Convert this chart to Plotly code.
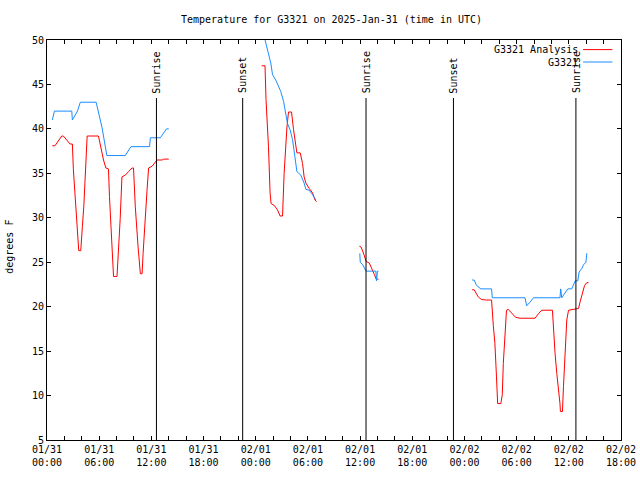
import plotly.graph_objects as go

# ---- data ----
analysis_times = [
    "2025-01-31 00:37", "2025-01-31 00:55", "2025-01-31 01:42", "2025-01-31 01:53", "2025-01-31 02:39",
    "2025-01-31 02:55", "2025-01-31 03:02", "2025-01-31 03:19", "2025-01-31 03:26", "2025-01-31 03:37",
    "2025-01-31 03:39", "2025-01-31 03:53", "2025-01-31 03:55", "2025-01-31 04:04", "2025-01-31 04:14",
    "2025-01-31 04:23", "2025-01-31 04:37", "2025-01-31 05:55", "2025-01-31 06:07", "2025-01-31 06:30",
    "2025-01-31 06:46", "2025-01-31 07:04", "2025-01-31 07:11", "2025-01-31 07:23", "2025-01-31 07:32",
    "2025-01-31 07:39", "2025-01-31 08:03", "2025-01-31 08:14", "2025-01-31 08:25", "2025-01-31 08:37",
    "2025-01-31 09:00", "2025-01-31 09:23", "2025-01-31 09:46", "2025-01-31 09:57", "2025-01-31 10:09",
    "2025-01-31 10:28", "2025-01-31 10:37", "2025-01-31 10:44", "2025-01-31 10:56", "2025-01-31 11:03",
    "2025-01-31 11:30", "2025-01-31 11:41", "2025-01-31 12:05", "2025-01-31 12:28", "2025-01-31 12:39",
    "2025-01-31 13:14", "2025-01-31 13:25", "2025-01-31 14:00",
    None,
    "2025-02-01 00:41", "2025-02-01 01:04", "2025-02-01 01:11", "2025-02-01 01:28", "2025-02-01 01:39",
    "2025-02-01 01:46", "2025-02-01 02:07", "2025-02-01 02:30", "2025-02-01 02:48", "2025-02-01 03:05",
    "2025-02-01 03:16", "2025-02-01 03:28", "2025-02-01 03:35", "2025-02-01 03:46", "2025-02-01 04:07",
    "2025-02-01 04:21", "2025-02-01 04:32", "2025-02-01 04:44", "2025-02-01 05:07", "2025-02-01 05:23",
    "2025-02-01 05:34", "2025-02-01 05:46", "2025-02-01 06:09", "2025-02-01 06:32", "2025-02-01 06:49",
    "2025-02-01 07:00",
    None,
    "2025-02-01 11:55", "2025-02-01 12:07", "2025-02-01 12:26", "2025-02-01 12:41", "2025-02-01 13:04",
    "2025-02-01 13:28", "2025-02-01 13:39", "2025-02-01 13:51", "2025-02-01 14:07",
    None,
    "2025-02-02 00:53", "2025-02-02 01:07", "2025-02-02 01:35", "2025-02-02 01:58", "2025-02-02 02:32",
    "2025-02-02 03:07", "2025-02-02 03:19", "2025-02-02 03:30", "2025-02-02 03:41", "2025-02-02 03:49",
    "2025-02-02 04:11", "2025-02-02 04:21", "2025-02-02 04:28", "2025-02-02 04:39", "2025-02-02 04:50",
    "2025-02-02 05:02", "2025-02-02 05:25", "2025-02-02 05:53", "2025-02-02 06:23", "2025-02-02 08:07",
    "2025-02-02 08:30", "2025-02-02 08:53", "2025-02-02 10:07", "2025-02-02 10:14", "2025-02-02 10:25",
    "2025-02-02 10:37", "2025-02-02 10:49", "2025-02-02 10:59", "2025-02-02 11:02", "2025-02-02 11:16",
    "2025-02-02 11:23", "2025-02-02 11:34", "2025-02-02 11:46", "2025-02-02 11:58", "2025-02-02 12:44",
    "2025-02-02 13:07", "2025-02-02 13:18", "2025-02-02 13:35", "2025-02-02 13:49", "2025-02-02 14:04",
    "2025-02-02 14:16",
]
analysis_temps = [
    38.1, 38.1, 39.2, 39.2, 38.3,
    38.3, 35.4, 31.3, 29.2, 27.2,
    26.3, 26.3, 27.2, 29.0, 31.3,
    34.3, 39.2, 39.2, 38.2, 36.5,
    35.6, 35.5, 32.4, 28.3, 26.4,
    23.4, 23.4, 26.4, 29.9, 34.6,
    34.8, 35.2, 35.6, 35.6, 31.3,
    26.8, 24.6, 23.7, 23.7, 26.0,
    33.1, 35.6, 35.8, 36.3, 36.5,
    36.5, 36.6, 36.6,
    None,
    47.1, 47.1, 43.3, 38.0, 32.8,
    31.6, 31.4, 30.9, 30.2, 30.2,
    35.0, 38.8, 40.1, 41.9, 41.9,
    39.9, 38.4, 37.3, 37.3, 36.1,
    34.6, 33.9, 33.3, 32.8, 32.0,
    31.8,
    None,
    26.8, 26.7, 25.9, 25.1, 24.9,
    24.1, 23.6, 23.1, 23.1,
    None,
    21.9, 21.9, 21.1, 20.8, 20.75,
    20.75, 17.9, 15.9, 12.1, 9.1,
    9.1, 10.1, 13.6, 17.0, 19.6,
    19.7, 19.3, 18.8, 18.7, 18.7,
    19.2, 19.6, 19.6, 17.4, 14.75,
    12.5, 11.0, 9.1, 8.2, 8.2,
    11.0, 15.1, 18.5, 19.6, 19.7,
    19.8, 20.55, 21.6, 22.4, 22.7,
    22.7,
]

obs_times = [
    "2025-01-31 00:37", "2025-01-31 00:51", "2025-01-31 02:51", "2025-01-31 02:55", "2025-01-31 03:30",
    "2025-01-31 03:50", "2025-01-31 05:39", "2025-01-31 05:55", "2025-01-31 06:19", "2025-01-31 06:53",
    "2025-01-31 09:00", "2025-01-31 09:39", "2025-01-31 11:48", "2025-01-31 11:53", "2025-01-31 13:02",
    "2025-01-31 13:44", "2025-01-31 14:00",
    None,
    "2025-02-01 00:46", "2025-02-01 01:21", "2025-02-01 01:44", "2025-02-01 01:56", "2025-02-01 02:18",
    "2025-02-01 02:53", "2025-02-01 03:12", "2025-02-01 03:23", "2025-02-01 03:39", "2025-02-01 03:57",
    "2025-02-01 04:14", "2025-02-01 04:30", "2025-02-01 04:44", "2025-02-01 05:11", "2025-02-01 05:34",
    "2025-02-01 05:46", "2025-02-01 06:09", "2025-02-01 06:32", "2025-02-01 06:55",
    None,
    "2025-02-01 11:58", "2025-02-01 12:01", "2025-02-01 12:19", "2025-02-01 12:41", "2025-02-01 13:49",
    "2025-02-01 13:53", "2025-02-01 14:00", "2025-02-01 14:07",
    None,
    "2025-02-02 00:53", "2025-02-02 01:07", "2025-02-02 01:23", "2025-02-02 01:53", "2025-02-02 03:07",
    "2025-02-02 03:12", "2025-02-02 06:58", "2025-02-02 07:09", "2025-02-02 07:32", "2025-02-02 07:56",
    "2025-02-02 10:59", "2025-02-02 11:04", "2025-02-02 11:11", "2025-02-02 11:34", "2025-02-02 11:53",
    "2025-02-02 12:20", "2025-02-02 12:44", "2025-02-02 13:02", "2025-02-02 13:11", "2025-02-02 13:30",
    "2025-02-02 13:41", "2025-02-02 13:58", "2025-02-02 14:04",
]
obs_temps = [
    41.0, 42.0, 42.0, 41.0, 42.0,
    43.0, 43.0, 42.0, 40.2, 37.0,
    37.0, 38.0, 38.0, 39.0, 39.0,
    40.0, 40.0,
    None,
    51.2, 48.9, 47.4, 46.1, 45.5,
    44.2, 43.1, 42.1, 40.6, 39.9,
    38.8, 36.9, 35.2, 34.8, 33.9,
    33.2, 33.1, 32.6, 32.0,
    None,
    26.0, 25.0, 24.7, 24.0, 24.0,
    22.9, 24.0, 24.0,
    None,
    23.0, 23.0, 22.4, 22.0, 22.0,
    21.0, 21.0, 20.1, 20.5, 21.0,
    21.0, 22.0, 21.0, 21.5, 22.0,
    22.0, 22.9, 22.9, 23.9, 24.3,
    24.7, 25.0, 26.0,
]

sun_events = ["Sunrise", "Sunset", "Sunrise", "Sunset", "Sunrise"]
sun_times = ["2025-01-31 12:35", "2025-01-31 22:30", "2025-02-01 12:41",
             "2025-02-01 22:44", "2025-02-02 12:49"]

y_ticks = [5, 10, 15, 20, 25, 30, 35, 40, 45, 50]

series_names = ["G3321 Analysis", "G3321"]
series_colors = ["#ff0000", "#1a8cff"]

title_text = "Temperature for G3321 on 2025-Jan-31 (time in UTC)"
y_label = "degrees F"

FONT = "DejaVu Sans Mono"
FS = 10

fig = go.Figure()
fig.add_trace(go.Scatter(x=analysis_times, y=analysis_temps, mode="lines",
                         name=series_names[0], line=dict(color=series_colors[0], width=1),
                         connectgaps=False))
fig.add_trace(go.Scatter(x=obs_times, y=obs_temps, mode="lines",
                         name=series_names[1], line=dict(color=series_colors[1], width=1),
                         connectgaps=False))

shapes = []
annotations = []
for ev, t in zip(sun_events, sun_times):
    shapes.append(dict(type="line", xref="x", yref="paper", x0=t, x1=t, y0=0, y1=0.855,
                       line=dict(color="black", width=1)))
    annotations.append(dict(x=t, xref="x", y=0.862, yref="paper", text=ev, showarrow=False,
                            textangle=-90, xanchor="center", yanchor="bottom",
                            font=dict(family=FONT, size=FS, color="black")))

# gnuplot-style legend (text right-aligned, sample line to the right)
legend_y = [0.976, 0.945]
for name, col, ly in zip(series_names, series_colors, legend_y):
    annotations.append(dict(x=0.929, xref="paper", y=ly, yref="paper", text=name,
                            showarrow=False, xanchor="right", yanchor="middle",
                            font=dict(family=FONT, size=FS, color="black")))
    shapes.append(dict(type="line", xref="paper", yref="paper", x0=0.934, x1=0.985,
                       y0=ly, y1=ly, line=dict(color=col, width=1)))

annotations.append(dict(x=-0.0645, xref="paper", y=0.483, yref="paper", text=y_label,
                        showarrow=False, textangle=-90, xanchor="center", yanchor="middle",
                        font=dict(family=FONT, size=FS, color="black")))
annotations.append(dict(x=0.4965, xref="paper", y=1.05, yref="paper", text=title_text,
                        showarrow=False, xanchor="center", yanchor="middle",
                        font=dict(family=FONT, size=FS, color="black")))

fig.update_layout(
    width=640, height=480,
    margin=dict(l=47, r=19, t=40, b=40, autoexpand=False),
    paper_bgcolor="white", plot_bgcolor="white",
    showlegend=False,
    font=dict(family=FONT, size=FS, color="black"),
    shapes=shapes, annotations=annotations,
)
fig.update_xaxes(
    type="date", range=["2025-01-31 00:00", "2025-02-02 18:00"], automargin=False,
    tick0="2025-01-31 00:00", dtick=6 * 3600 * 1000, tickformat="%m/%d<br>%H:%M",
    ticks="inside", ticklen=4, tickcolor="black", showline=True, linecolor="black",
    linewidth=1, mirror="ticks", showgrid=False, zeroline=False,
    minor=dict(dtick=2 * 3600 * 1000, ticks="inside", ticklen=4, tickcolor="black", showgrid=False),
    tickfont=dict(family=FONT, size=FS, color="black"),
)
fig.update_yaxes(
    range=[5, 50], tickvals=y_ticks, ticks="inside", ticklen=4, tickcolor="black",
    showline=True, linecolor="black", linewidth=1, mirror="ticks", showgrid=False,
    zeroline=False, automargin=False, tickfont=dict(family=FONT, size=FS, color="black"),
)

# remove the browser's default 8px page margin so the figure fills the window exactly
fig.write_html("out.html", config={"displayModeBar": False},
               post_script="document.body.style.margin='0';")
